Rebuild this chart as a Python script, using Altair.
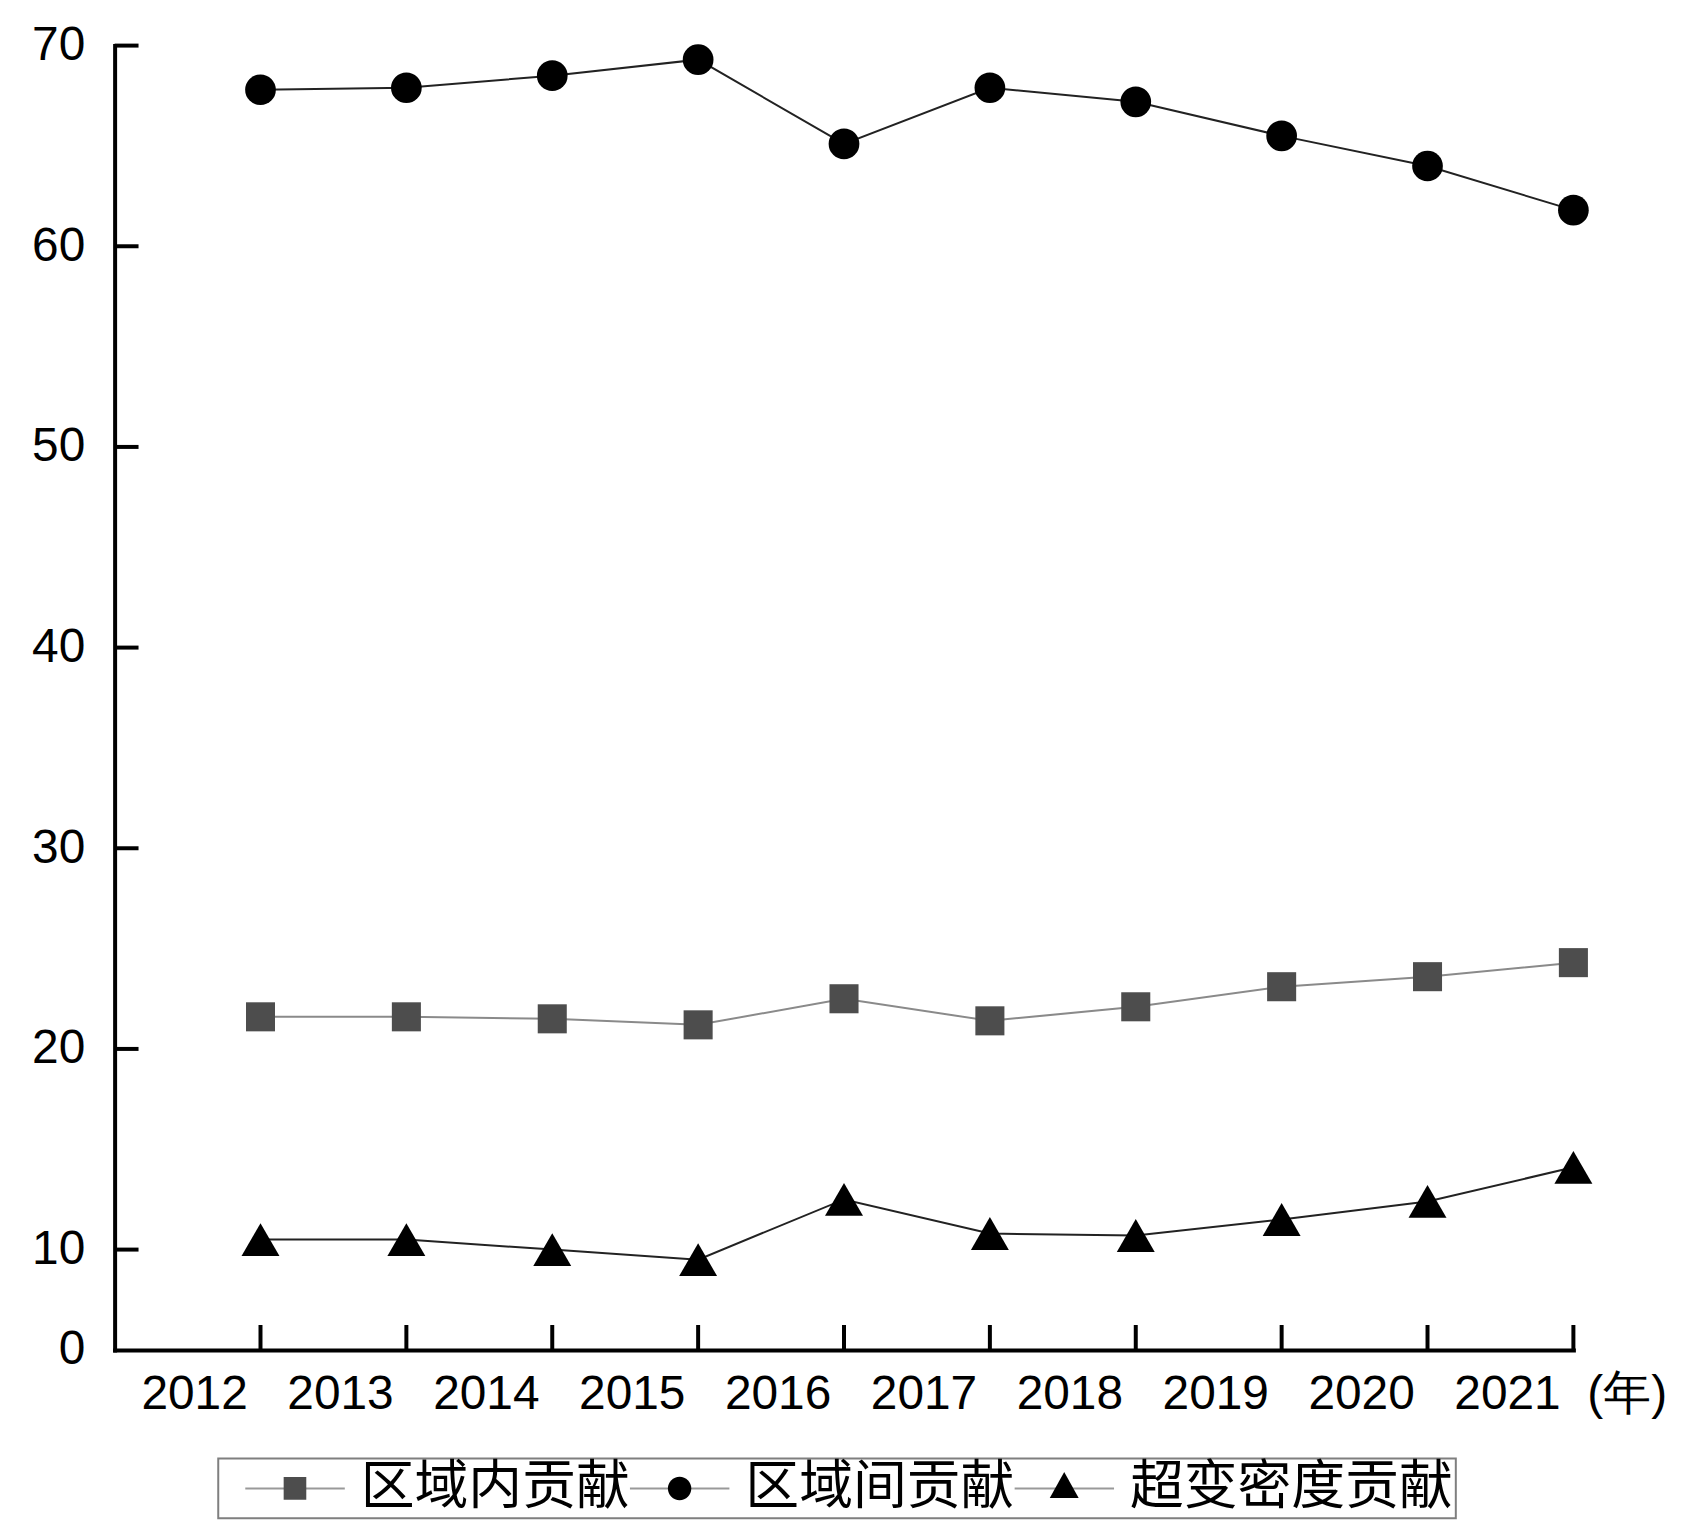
import json
import altair as alt
import pandas as pd

# ---------------- data ----------------
years = [2012, 2013, 2014, 2015, 2016, 2017, 2018, 2019, 2020, 2021]
series = ["区域内贡献", "区域间贡献", "超变密度贡献"]
intra = [21.6, 21.6, 21.5, 21.2, 22.5, 21.4, 22.1, 23.1, 23.6, 24.3]
inter = [67.8, 67.9, 68.5, 69.3, 65.1, 67.9, 67.2, 65.5, 64.0, 61.8]
hyper = [10.5, 10.5, 10.0, 9.5, 12.5, 10.8, 10.7, 11.5, 12.4, 14.1]

y_label_values = [5, 10, 20, 30, 40, 50, 60, 70]
y_label_texts = ["0", "10", "20", "30", "40", "50", "60", "70"]
y_tick_values = [10, 20, 30, 40, 50, 60, 70]
x_label_texts = ["2012", "2013", "2014", "2015", "2016", "2017", "2018", "2019", "2020",
                 "2021\u00a0\u00a0(年)"]

rows = []
for name, vals in zip(series, [intra, inter, hyper]):
    for yr, v in zip(years, vals):
        rows.append({"year": yr, "value": v, "series": name})
df = pd.DataFrame(rows)

# ---------------- styling ----------------
W, H = 1464, 1309
line_colors = ["#8a8a8a", "#222222", "#222222"]
fills = ["#4d4d4d", "#000000", "#000000"]
shapes = ["square", "circle", "triangle-up"]
sizes = [850, 950, 1450]

# legend symbols (unit box -1..1): marker part and connecting-line part
legend_marker_paths = [
    "M-0.227,-0.227L0.227,-0.227L0.227,0.227L-0.227,0.227Z",
    "M0.235,0A0.235,0.235,0,1,1,-0.235,0A0.235,0.235,0,1,1,0.235,0Z",
    "M0,-0.33L0.29,0.19L-0.29,0.19Z",
]


def seg_path(g, t=0.02):
    return (f"M-1,{-t}L{-g},{-t}L{-g},{t}L-1,{t}Z"
            f"M{g},{-t}L1,{-t}L1,{t}L{g},{t}Z")


legend_line_paths = [seg_path(0.2), seg_path(0.2), seg_path(0.16)]

xscale = alt.Scale(domain=[2011, 2021], nice=False, zero=False)
yscale = alt.Scale(domain=[5, 70], nice=False, zero=False)

x_expr = f"{json.dumps(x_label_texts, ensure_ascii=False)}[indexof({json.dumps(years)}, datum.value)]"
y_expr = f"{json.dumps(y_label_texts)}[indexof({json.dumps(y_label_values)}, datum.value)]"

x_axis = alt.Axis(values=years, labelExpr=x_expr, title=None, ticks=False, grid=False,
                  labelAlign="left", labelOffset=-120, labelPadding=21, labelFlush=False,
                  labelOverlap=False, labelLimit=400, domainCap="square")
y_axis = alt.Axis(values=y_label_values, labelExpr=y_expr, title=None, ticks=False, grid=False,
                  labelPadding=30, labelOverlap=False, domainCap="square")

lines = alt.Chart(df).mark_line(strokeWidth=2).encode(
    x=alt.X("year:Q", scale=xscale, axis=x_axis),
    y=alt.Y("value:Q", scale=yscale, axis=y_axis),
    color=alt.Color("series:N", scale=alt.Scale(domain=series, range=line_colors), legend=None),
)

point_layers = []
for name, shp, fc, sz in zip(series, shapes, fills, sizes):
    point_layers.append(
        alt.Chart(df).transform_filter(alt.datum.series == name)
        .mark_point(filled=True, opacity=1, shape=shp, fill=fc, size=sz, strokeWidth=0)
        .encode(x=alt.X("year:Q", scale=xscale), y=alt.Y("value:Q", scale=yscale))
    )

yticks = alt.Chart(pd.DataFrame({"v": y_tick_values})).mark_rule(strokeWidth=4, color="black").encode(
    y=alt.Y("v:Q", scale=yscale),
    x=alt.value(0),
    x2=alt.value(24),
)

xticks = alt.Chart(pd.DataFrame({"year": years})).mark_rule(strokeWidth=4, color="black").encode(
    x=alt.X("year:Q", scale=xscale),
    y=alt.value(H),
    y2=alt.value(H - 25),
)

common_leg = dict(
    title=" ", titleOrient="left", titleFontSize=8, titlePadding=24,
    orient="none", legendX=104, legendY=1418, direction="horizontal",
    labelFont="Noto Sans CJK SC", labelFontSize=54, labelColor="black", labelLimit=600,
    symbolSize=10000, symbolStrokeWidth=0,
    symbolOffset=0, labelOffset=16, columnPadding=0, padding=3, clipHeight=54,
)
leg_lines = alt.Legend(strokeColor="#7f7f7f", **common_leg)
leg_markers = alt.Legend(labelOpacity=0, **common_leg)

legend_lines_layer = alt.Chart(df).mark_point(
    filled=True, opacity=1, fill="#999999", strokeWidth=0
).encode(
    x=alt.X("year:Q", scale=xscale),
    y=alt.Y("value:Q", scale=yscale),
    shape=alt.Shape("series:N", scale=alt.Scale(domain=series, range=legend_line_paths), legend=leg_lines),
).transform_filter("false")

legend_markers_layer = alt.Chart(df).mark_point(filled=True, opacity=1, strokeWidth=0).encode(
    x=alt.X("year:Q", scale=xscale),
    y=alt.Y("value:Q", scale=yscale),
    shape=alt.Shape("series:N", scale=alt.Scale(domain=series, range=legend_marker_paths), legend=leg_markers),
    fill=alt.Fill("series:N", scale=alt.Scale(domain=series, range=fills), legend=leg_markers),
).transform_filter("false")

chart = alt.layer(lines, *point_layers, yticks, xticks, legend_lines_layer, legend_markers_layer).resolve_scale(
    shape="independent", fill="independent"
).properties(
    width=W, height=H,
    autosize=alt.AutoSizeParams(type="none"),
    padding={"left": 107, "top": 35, "right": 110, "bottom": 180},
    background="white",
).configure_view(stroke=None).configure_axis(
    domainColor="black", domainWidth=4, labelFont="Liberation Sans", labelFontSize=48,
    labelColor="black",
).configure_legend(strokeWidth=2)

chart.save("out.html", embed_options={"renderer": "svg", "actions": False})
